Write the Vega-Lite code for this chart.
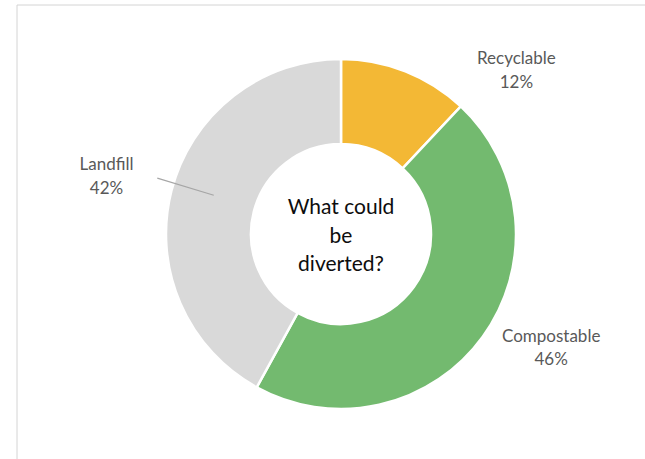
{
  "$schema": "https://vega.github.io/schema/vega-lite/v6.json",
  "width": 648,
  "height": 458,
  "autosize": {"type": "none"},
  "padding": {"left": 17, "top": 5, "right": -20, "bottom": -4},
  "background": "white",
  "config": {"view": {"stroke": null}, "font": "Lato"},
  "datasets": {
    "share": [
      {"category": "Recyclable", "value": 12, "seq": 1, "label": ["Recyclable", "12%"]},
      {"category": "Compostable", "value": 46, "seq": 2, "label": ["Compostable", "46%"]},
      {"category": "Landfill", "value": 42, "seq": 3, "label": ["Landfill", "42%"]}
    ]
  },
  "layer": [
    {
      "data": {"values": [{"frame": 1}]},
      "mark": {"type": "rect", "fill": null, "stroke": "#D4D4D4", "strokeWidth": 1, "strokeDash": [648, 1106, 458, 0]},
      "encoding": {}
    },
    {
      "data": {"name": "share"},
      "mark": {"type": "arc", "outerRadius": 175, "innerRadius": 90, "stroke": "white", "strokeWidth": 2.5},
      "encoding": {
        "theta": {"field": "value", "type": "quantitative", "stack": true, "scale": {"domain": [0, 100]}},
        "order": {"field": "seq"},
        "color": {"field": "category", "type": "nominal", "legend": null,
          "scale": {"domain": ["Recyclable", "Compostable", "Landfill"], "range": ["#F3B835", "#73BA6F", "#D9D9D9"]}}
      }
    },
    {
      "data": {"values": [{"at": 79.7}]},
      "mark": {"type": "arc", "radius": 192, "radius2": 133, "stroke": "#A6A6A6", "strokeWidth": 1.2, "fill": null},
      "encoding": {
        "theta": {"field": "at", "type": "quantitative"},
        "theta2": {"field": "at"}
      }
    },
    {
      "data": {"name": "share"},
      "mark": {"type": "text", "radius": 240, "dx": 87, "dy": 48, "fontSize": 17, "lineHeight": 24, "fill": "#595959", "align": "center", "baseline": "middle"},
      "encoding": {
        "theta": {"field": "value", "type": "quantitative", "stack": true},
        "order": {"field": "seq"},
        "text": {"field": "label"},
        "opacity": {"condition": {"test": "datum.category === 'Recyclable'", "value": 1}, "value": 0}
      }
    },
    {
      "data": {"name": "share"},
      "mark": {"type": "text", "radius": 240, "dx": 16, "dy": -38, "fontSize": 17, "lineHeight": 23, "fill": "#595959", "align": "center", "baseline": "middle"},
      "encoding": {
        "theta": {"field": "value", "type": "quantitative", "stack": true},
        "order": {"field": "seq"},
        "text": {"field": "label"},
        "opacity": {"condition": {"test": "datum.category === 'Compostable'", "value": 1}, "value": 0}
      }
    },
    {
      "data": {"name": "share"},
      "mark": {"type": "text", "radius": 240, "dx": -2, "dy": -9, "fontSize": 17, "lineHeight": 24, "fill": "#595959", "align": "center", "baseline": "middle"},
      "encoding": {
        "theta": {"field": "value", "type": "quantitative", "stack": true},
        "order": {"field": "seq"},
        "text": {"field": "label"},
        "opacity": {"condition": {"test": "datum.category === 'Landfill'", "value": 1}, "value": 0}
      }
    },
    {
      "data": {"values": [{"line": ["What could", "be", "diverted?"]}]},
      "mark": {"type": "text", "fontSize": 21, "lineHeight": 28.5, "dy": -26, "fill": "#0D0D0D", "align": "center", "baseline": "middle"},
      "encoding": {"text": {"field": "line"}}
    }
  ]
}
